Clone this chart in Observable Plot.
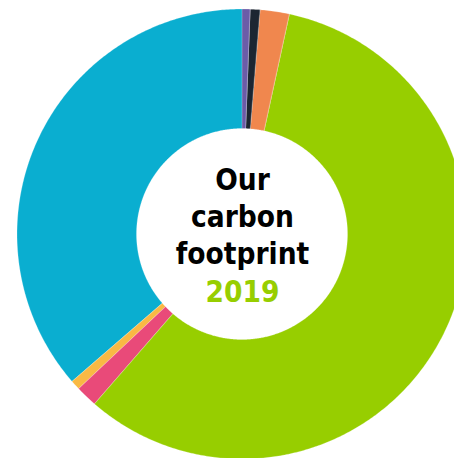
<!DOCTYPE html>
<html>
<head>
<meta charset="utf-8">
<script src="https://cdn.jsdelivr.net/npm/d3@7"></script>
<script src="https://cdn.jsdelivr.net/npm/@observablehq/plot@0.6"></script>
<style>
  html, body { margin: 0; padding: 0; background: #fff; overflow: hidden; }
  #chart svg { display: block; }
</style>
</head>
<body>
<div id="chart"></div>
<script>
// Data (share of the footprint, %), clockwise from 12 o'clock
const categories = ["Segment A", "Segment B", "Segment C", "Segment D", "Segment E", "Segment F", "Segment G"];
const shares     = [0.6, 0.7, 2.1, 58.0, 1.55, 0.7, 36.35];
const colors     = ["#6b5ca8", "#1c2632", "#f0874e", "#97ce00", "#e94a79", "#f9b944", "#0aaed0"];
const titleLines = ["Our", "carbon", "footprint"];
const yearLabel  = "2019";

const W = 454, H = 458;
const R_OUT = 225, R_IN = 105.5;

// Build annular-sector outlines from the shares
const total = d3.sum(shares);
const rows = [];
let acc = 0;
shares.forEach((v, i) => {
  const a0 = acc / total * 2 * Math.PI;
  acc += v;
  const a1 = acc / total * 2 * Math.PI;
  const n = Math.max(2, Math.ceil((a1 - a0) / (Math.PI / 360)));
  for (let k = 0; k <= n; k++) {
    const a = a0 + (a1 - a0) * k / n;
    rows.push({
      category: categories[i],
      x1: R_OUT * Math.sin(a), y1: R_OUT * Math.cos(a),
      x2: R_IN * Math.sin(a),  y2: R_IN * Math.cos(a)
    });
  }
});

const fontFamily = "'DejaVu Sans Condensed', 'DejaVu Sans', sans-serif";

const chart = Plot.plot({
  width: W,
  height: H,
  margin: 0,
  x: { domain: [-242, W - 242], range: [0, W], axis: null },
  y: { domain: [-(H - 234), 234], range: [H, 0], axis: null },
  color: { domain: categories, range: colors },
  style: { background: "#fff" },
  marks: [
    Plot.area(rows, {
      x1: "x1", y1: "y1", x2: "x2", y2: "y2",
      z: "category", fill: "category",
      stroke: "#fff", strokeWidth: 0.4, strokeOpacity: 0.6
    }),
    Plot.text([titleLines.join("\n")], {
      text: d => d, x: 0, y: 0,
      lineAnchor: "bottom", dy: 29, lineHeight: 1.25,
      fontFamily, fontWeight: "bold", fontSize: 29.5, fill: "#000"
    }),
    Plot.text([yearLabel], {
      text: d => d, x: 0, y: 0,
      lineAnchor: "bottom", dy: 67,
      fontFamily, fontWeight: "bold", fontSize: 29.5, fill: "#97ce00"
    })
  ]
});
document.getElementById("chart").appendChild(chart);
</script>
</body>
</html>
